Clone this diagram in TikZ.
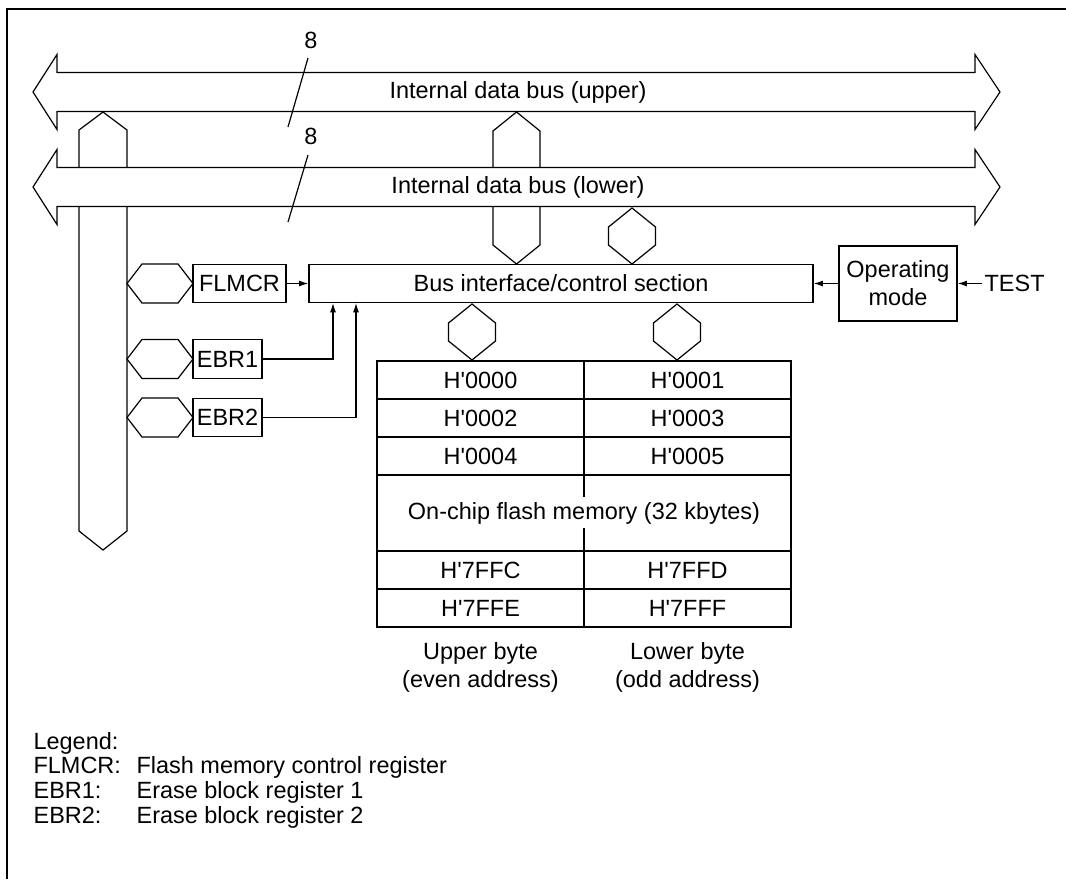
\documentclass[tikz,border=0pt]{standalone}
\usepackage{fontspec}
\setmainfont{Liberation Sans}[Ligatures=TeXOff]
\usetikzlibrary{arrows.meta}

\begin{document}
\begin{tikzpicture}[x=0.75pt,y=-0.75pt,line width=0.9pt,
  every node/.style={font=\fontsize{17.6}{21}\selectfont,inner sep=0pt},
  regbox/.style={draw,minimum height=29pt},
  cell/.style={draw,minimum width=155.25pt,minimum height=28.5pt},
  sig/.style={-{Latex[length=7pt,width=4.5pt]}}]
  \useasboundingbox (0,0) rectangle (1066,879);
  \draw[line width=1.5pt] (7,879) -- (7,9) -- (1066,9);

  % bus branches first, the lower bus is filled over them
  \draw (103,112) -- (127,130) -- (127,531) -- (103,550) -- (79,531) -- (79,130) -- cycle;
  \draw (516.5,112) -- (540,131) -- (540,245) -- (516.5,264) -- (493,245) -- (493,131) -- cycle;

  \foreach \my/\txt in {92/upper,187/lower}
    \draw[fill=white,shift={(0,\my)}] (33,0) -- (57,-37.5) -- (57,-19.5) -- (975,-19.5)
      -- (975,-37.5) -- (1000,0) -- (975,37.5) -- (975,19.5) -- (57,19.5) -- (57,37.5) -- cycle
      (518,0) node (bus\txt) {Internal data bus (\txt)};

  \node (wupper) at (311,40) {8};
  \node (wlower) at (311,136) {8};
  \draw (308,58) -- (288,127) (308,155) -- (288,222);

  \foreach \cx/\ty in {632/208,472/304,677/304}
    \draw[shift={(\cx,\ty)}] (0,0) -- (23.5,19) -- (23.5,37) -- (0,56) -- (-23.5,37) -- (-23.5,19) -- cycle;
  \foreach \my in {283.5,359,417.5}
    \draw[shift={(0,\my)}] (127,0) -- (142,-19.5) -- (178,-19.5) -- (193,0) -- (178,19.5) -- (142,19.5) -- cycle;

  \node[regbox,minimum width=69.75pt] (flmcr) at (239.5,283.5) {FLMCR};
  \node[regbox,minimum width=51.75pt] (ebr1) at (227.5,359) {EBR1};
  \node[regbox,minimum width=51.75pt] (ebr2) at (227.5,417.5) {EBR2};
  \node[regbox,minimum width=378pt] (bic) at (561,283.5) {Bus interface/control section};
  \node[draw,minimum width=88.5pt,minimum height=56.25pt,align=center] (opmode) at (898,283.5) {Operating\\mode};
  \node[anchor=west,inner sep=1.5pt] (test) at (982,283.5) {TEST};

  \coordinate (in1) at (333,303);
  \coordinate (in2) at (356,303);
  \draw[sig] (flmcr) -- (bic);
  \draw[sig] (opmode) -- (bic);
  \draw[sig] (test) -- (opmode);
  \draw[sig] (ebr1.east) -| (in1);
  \draw[sig] (ebr2.east) -| (in2);

  \foreach \yc/\lo/\hi in {380/0000/0001,418/0002/0003,456/0004/0005,570/7FFC/7FFD,608/7FFE/7FFF} {
    \node[cell] (m\lo) at (480.5,\yc) {H'\lo};
    \node[cell] (m\hi) at (687.5,\yc) {H'\hi};
  }
  \node[draw,minimum width=310.5pt,minimum height=57pt] (flash) at (584,513) {On-chip flash memory (32 kbytes)};
  \draw (flash.north) -- ++(0,23) (flash.south) -- ++(0,-24);

  \node[align=center] (upper) at (480.5,667) {Upper byte\\(even address)};
  \node[align=center] (lower) at (687.5,667) {Lower byte\\(odd address)};

  \node[anchor=base west] (legend) at (33,749) {Legend:};
  \foreach \yy/\ab/\txt in {773/FLMCR:/Flash memory control register,798/EBR1:/Erase block register 1,823/EBR2:/Erase block register 2} {
    \node[anchor=base west] (ab\yy) at (33,\yy) {\ab};
    \node[anchor=base west] (tx\yy) at (136,\yy) {\txt};
  }
\end{tikzpicture}
\end{document}
